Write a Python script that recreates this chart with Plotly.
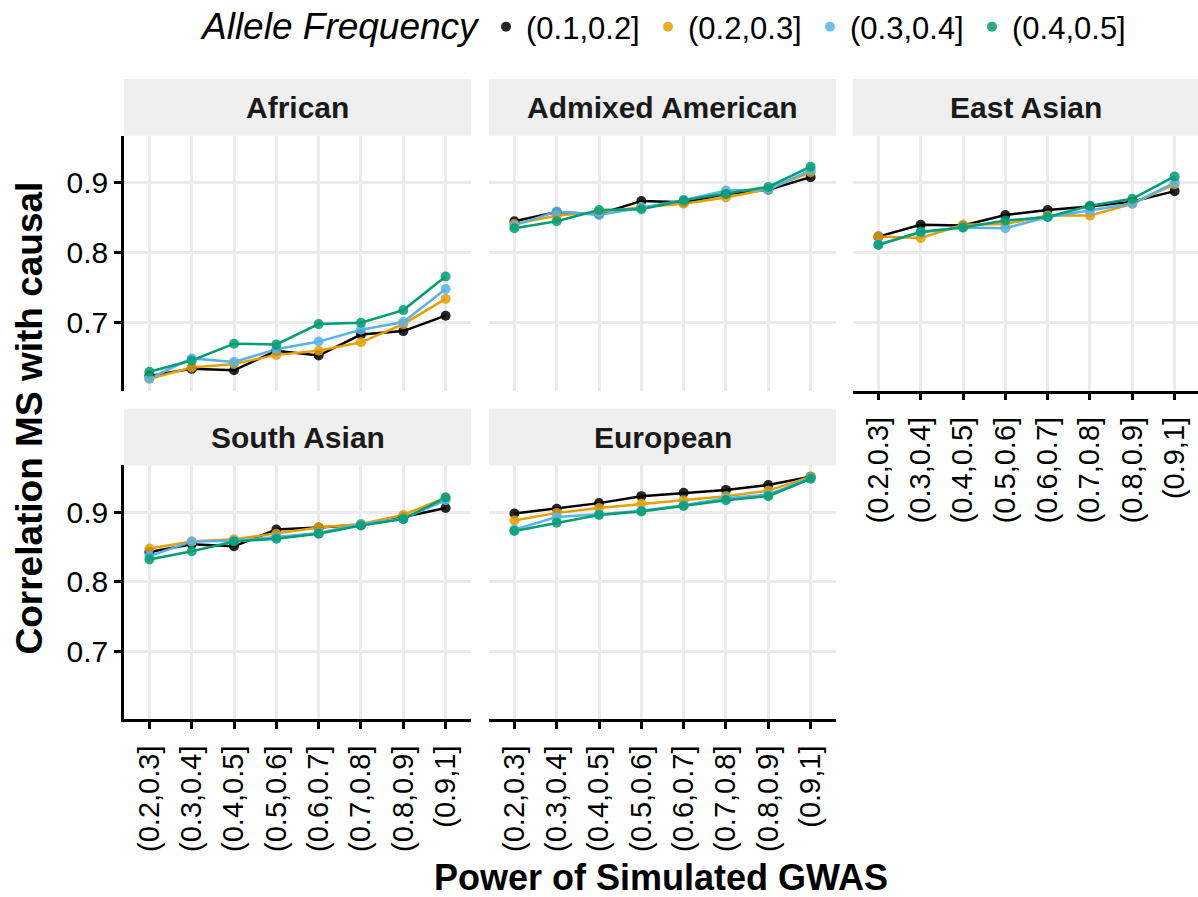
import plotly.graph_objects as go

# Power bins of the simulated GWAS (x categories)
power_bins = ["(0.2,0.3]", "(0.3,0.4]", "(0.4,0.5]", "(0.5,0.6]",
              "(0.6,0.7]", "(0.7,0.8]", "(0.8,0.9]", "(0.9,1]"]

# Allele frequency bins (series) and their colours
freq_bins = ["(0.1,0.2]", "(0.2,0.3]", "(0.3,0.4]", "(0.4,0.5]"]
freq_colors = ["#000000", "#E69F00", "#56B4E9", "#009E73"]

# Correlation of MS with causal, one row per allele-frequency bin
african = [
    [0.624, 0.634, 0.632, 0.660, 0.653, 0.683, 0.688, 0.710],
    [0.620, 0.636, 0.641, 0.654, 0.660, 0.672, 0.698, 0.734],
    [0.620, 0.649, 0.644, 0.662, 0.673, 0.690, 0.701, 0.748],
    [0.630, 0.646, 0.670, 0.669, 0.698, 0.700, 0.718, 0.766],
]
admixed_american = [
    [0.845, 0.858, 0.855, 0.874, 0.872, 0.884, 0.890, 0.908],
    [0.841, 0.853, 0.858, 0.865, 0.870, 0.879, 0.891, 0.915],
    [0.839, 0.859, 0.854, 0.865, 0.875, 0.889, 0.890, 0.918],
    [0.835, 0.845, 0.861, 0.862, 0.875, 0.884, 0.894, 0.923],
]
east_asian = [
    [0.823, 0.840, 0.839, 0.854, 0.861, 0.866, 0.873, 0.888],
    [0.823, 0.821, 0.840, 0.841, 0.853, 0.853, 0.870, 0.898],
    [0.812, 0.829, 0.836, 0.835, 0.851, 0.860, 0.870, 0.900],
    [0.811, 0.830, 0.836, 0.846, 0.851, 0.867, 0.877, 0.909],
]
south_asian = [
    [0.843, 0.854, 0.851, 0.875, 0.878, 0.882, 0.893, 0.906],
    [0.848, 0.858, 0.861, 0.869, 0.878, 0.883, 0.896, 0.921],
    [0.837, 0.858, 0.859, 0.864, 0.870, 0.883, 0.891, 0.917],
    [0.832, 0.844, 0.858, 0.862, 0.869, 0.881, 0.890, 0.921],
]
european = [
    [0.898, 0.905, 0.913, 0.923, 0.928, 0.932, 0.939, 0.951],
    [0.888, 0.899, 0.906, 0.912, 0.917, 0.923, 0.931, 0.951],
    [0.875, 0.893, 0.897, 0.902, 0.910, 0.920, 0.925, 0.949],
    [0.873, 0.885, 0.896, 0.901, 0.909, 0.917, 0.923, 0.948],
]

y_ticks = [0.7, 0.8, 0.9]
y_tick_text = ["0.7", "0.8", "0.9"]

# Facet layout: (title, data, column, row)
panels = [
    ("African", african, 0, 0),
    ("Admixed American", admixed_american, 1, 0),
    ("East Asian", east_asian, 2, 0),
    ("South Asian", south_asian, 0, 1),
    ("European", european, 1, 1),
]

W, H = 1198, 897
FONT = "Liberation Sans, Arial, Helvetica, sans-serif"
GRID = "#EBEBEB"
STRIP = "#EFEFEF"

col_px = [(124, 471), (489, 836), (853, 1198)]
row_px = [(135, 390), (465, 719)]
strip_px = [(78, 135), (408, 465)]
unit_px = (471 - 124) / 8.2  # pixels per category step


def fx(p):
    return p / W


def fy(p):
    return 1 - p / H


fig = go.Figure()
layout = dict(shapes=[], annotations=[])

for i, (title, data, c, r) in enumerate(panels):
    n = i + 1
    xa = "x" if n == 1 else f"x{n}"
    ya = "y" if n == 1 else f"y{n}"
    x0, x1 = col_px[c]
    y0, y1 = row_px[r]

    # last row of each column carries the x axis
    bottom = (r == 1) or (c == 2)
    left = c == 0

    xr_hi = -0.6 + (x1 - x0) / unit_px
    layout["xaxis" if n == 1 else f"xaxis{n}"] = dict(
        domain=[fx(x0), fx(x1)], anchor=ya, type="category",
        categoryorder="array", categoryarray=power_bins,
        range=[-0.6, xr_hi], showgrid=True, gridcolor=GRID, gridwidth=2.5,
        showline=bottom, linecolor="black", linewidth=2.5,
        ticks="outside" if bottom else "", ticklen=7, tickwidth=2.5,
        tickcolor="black", showticklabels=bottom, tickangle=-90,
        ticklabelstandoff=5,
        tickfont=dict(size=29, color="black", family=FONT),
        zeroline=False, fixedrange=True,
    )
    layout["yaxis" if n == 1 else f"yaxis{n}"] = dict(
        domain=[fy(y1), fy(y0)], anchor=xa, range=[0.603, 0.967],
        tickvals=y_ticks, ticktext=y_tick_text,
        showgrid=True, gridcolor=GRID, gridwidth=2.5,
        showline=left, linecolor="black", linewidth=2.5,
        ticks="outside" if left else "", ticklen=7, tickwidth=2.5,
        tickcolor="black", showticklabels=left,
        tickfont=dict(size=30, color="black", family=FONT),
        zeroline=False, fixedrange=True,
    )

    # facet strip
    s0, s1 = strip_px[r]
    layout["shapes"].append(dict(
        type="rect", xref="paper", yref="paper",
        x0=fx(x0), x1=fx(x1), y0=fy(s1), y1=fy(s0),
        fillcolor=STRIP, line=dict(width=0), layer="below",
    ))
    layout["annotations"].append(dict(
        text=f"<b>{title}</b>", xref="paper", yref="paper",
        x=fx((x0 + x1) / 2), y=fy((s0 + s1) / 2),
        xanchor="center", yanchor="middle", showarrow=False,
        font=dict(size=30, color="#1A1A1A", family=FONT),
    ))

    # lines first, points on top
    for k, series in enumerate(data):
        fig.add_trace(go.Scatter(
            x=power_bins, y=series, mode="lines", xaxis=xa, yaxis=ya,
            line=dict(color=freq_colors[k], width=2.5),
            legendgroup=freq_bins[k], showlegend=False, hoverinfo="skip",
        ))
    for k, series in enumerate(data):
        fig.add_trace(go.Scatter(
            x=power_bins, y=series, mode="markers", xaxis=xa, yaxis=ya,
            name=freq_bins[k], legendgroup=freq_bins[k], showlegend=(n == 1),
            marker=dict(color=freq_colors[k], size=10, opacity=0.85,
                        line=dict(width=0)),
        ))

# axis titles and legend heading
layout["annotations"].append(dict(
    text="<b>Power of Simulated GWAS</b>", xref="paper", yref="paper",
    x=fx(661), y=fy(877), xanchor="center", yanchor="middle",
    showarrow=False, font=dict(size=36, color="black", family=FONT),
))
layout["annotations"].append(dict(
    text="<b>Correlation MS with causal</b>", xref="paper", yref="paper",
    x=fx(30), y=fy(418), xanchor="center", yanchor="middle", textangle=-90,
    showarrow=False, font=dict(size=37, color="black", family=FONT),
))
layout["annotations"].append(dict(
    text="<i>Allele Frequency</i>", xref="paper", yref="paper",
    x=fx(198), y=fy(26), xanchor="left", yanchor="middle",
    showarrow=False, font=dict(size=37, color="black", family=FONT),
))

fig.update_layout(
    **layout,
    width=W, height=H,
    margin=dict(l=0, r=0, t=0, b=0),
    paper_bgcolor="white", plot_bgcolor="white",
    font=dict(family=FONT, color="black"),
    legend=dict(
        orientation="h", x=fx(486), xanchor="left", y=fy(26),
        yanchor="middle",
        font=dict(size=31, family=FONT, color="black"),
        entrywidth=117, entrywidthmode="pixels",
        bgcolor="rgba(0,0,0,0)", itemclick=False, itemdoubleclick=False,
    ),
)

fig.write_html("out.html")
